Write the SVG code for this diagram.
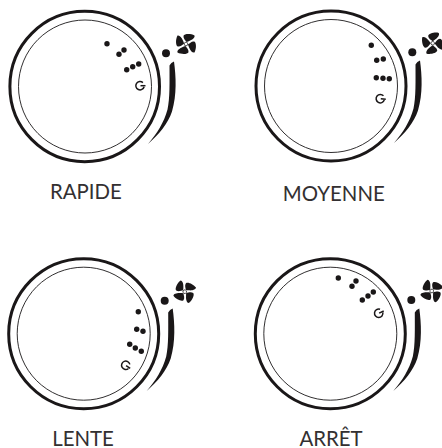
<svg xmlns="http://www.w3.org/2000/svg" width="442" height="448" viewBox="0 0 442 448">
<style>
.bg{fill:#fff}
.outer{fill:none;stroke:#1a1718;stroke-width:3}
.inner{fill:none;stroke:#1a1718;stroke-width:.9}
.k{fill:#1a1718}
.pw{fill:none;stroke:#1a1718;stroke-width:1.500}
text{font-family:"Lato","Open Sans",sans-serif;font-size:20.400px;fill:#333031;text-anchor:middle}
</style>
<defs>
<path id="blade" class="k" d="M.6 -1.900C-.6 -3.500 -3 -5.700 -2.500 -8.200C-1.500 -10.500 4.800 -10.500 8.500 -8.500C9.200 -6.500 6.500 -4.300 3.700 -3.200C2.700 -2.800 1.600 -2.200 .6 -1.900Z"/>
<g id="fan">
<use href="#blade"/>
<use href="#blade" transform="rotate(90)"/>
<use href="#blade" transform="rotate(180)"/>
<use href="#blade" transform="rotate(270)"/>
<circle r="1.800" fill="#fff" stroke="#1a1718" stroke-width=".7"/>
</g>
<g id="pwr">
<path class="pw" d="M2.900 -3.100A4.200 4.200 0 1 0 4.100 1"/>
<path class="pw" d="M0.500 0H5.500"/>
</g>
<path id="arc" class="k" d="M84.500 -21Q86 -24 89 -25C91 -10 92 8 87 25C83 37 74 48 63 57.500C72 47 79 36 82.500 23C85 12 84.500 -5 84.500 -21Z"/>
</defs>
<rect class="bg" width="442" height="448"/>
<g id="dial-rapide">
<ellipse class="outer" cx="84.700" cy="86.500" rx="74.800" ry="75.200"/>
<circle class="inner" cx="85" cy="86.500" r="66.500"/>
<use href="#arc" x="85" y="86.500"/>
<circle class="k" cx="107" cy="43.700" r="2.700"/><circle class="k" cx="124" cy="50" r="2.700"/><circle class="k" cx="119" cy="54.300" r="2.700"/>
<circle class="k" cx="138.700" cy="64" r="2.700"/><circle class="k" cx="132.700" cy="66.700" r="2.700"/><circle class="k" cx="126.700" cy="69.700" r="2.700"/>
<use href="#pwr" transform="translate(140 85.700)"/>
<circle class="k" cx="166" cy="53.300" r="4"/>
<use href="#fan" transform="translate(186 44)"/>
<text x="85.800" y="199.300">RAPIDE</text>
</g>
<g id="dial-moyenne">
<ellipse class="outer" cx="331" cy="86" rx="75" ry="75"/>
<circle class="inner" cx="331" cy="86" r="66.500"/>
<use href="#arc" x="331" y="85.500"/>
<circle class="k" cx="371.300" cy="45.300" r="2.700"/><circle class="k" cx="383.300" cy="59" r="2.700"/><circle class="k" cx="376.700" cy="60.300" r="2.700"/>
<circle class="k" cx="376.300" cy="77.700" r="2.700"/><circle class="k" cx="383" cy="78.300" r="2.700"/><circle class="k" cx="389.300" cy="78.700" r="2.700"/>
<use href="#pwr" transform="translate(380.300 98.700) rotate(5)"/>
<circle class="k" cx="412.300" cy="52.300" r="4"/>
<use href="#fan" transform="translate(432.700 43.300) rotate(-15)"/>
<text x="333.800" y="200.700">MOYENNE</text>
</g>
<g id="dial-lente">
<ellipse class="outer" cx="83.700" cy="333.700" rx="75" ry="75"/>
<circle class="inner" cx="83.700" cy="333.700" r="66.500"/>
<use href="#arc" x="83.700" y="333.500"/>
<circle class="k" cx="138.300" cy="311.700" r="2.700"/><circle class="k" cx="136.700" cy="329.300" r="2.700"/><circle class="k" cx="143" cy="331.300" r="2.700"/>
<circle class="k" cx="129.700" cy="344.300" r="2.700"/><circle class="k" cx="135.300" cy="348" r="2.700"/><circle class="k" cx="141.300" cy="351.300" r="2.700"/>
<use href="#pwr" transform="translate(125.700 365.300) rotate(35)"/>
<circle class="k" cx="164.700" cy="300.700" r="4"/>
<use href="#fan" transform="translate(184.700 291.700) rotate(25)"/>
<text x="83" y="445.700">LENTE</text>
</g>
<g id="dial-arret">
<ellipse class="outer" cx="330.300" cy="333.700" rx="75" ry="75"/>
<circle class="inner" cx="330.300" cy="333.700" r="66.500"/>
<use href="#arc" x="330.300" y="333.500"/>
<circle class="k" cx="338.300" cy="278" r="2.700"/><circle class="k" cx="356" cy="281" r="2.700"/><circle class="k" cx="352" cy="286.300" r="2.700"/>
<circle class="k" cx="373.300" cy="292" r="2.700"/><circle class="k" cx="368" cy="296" r="2.700"/><circle class="k" cx="362.300" cy="300" r="2.700"/>
<use href="#pwr" transform="translate(378.700 313.300) rotate(-25)"/>
<circle class="k" cx="411.300" cy="300" r="4"/>
<use href="#fan" transform="translate(431.700 291) rotate(25)"/>
<text x="331" y="446">ARRÊT</text>
</g>
</svg>
